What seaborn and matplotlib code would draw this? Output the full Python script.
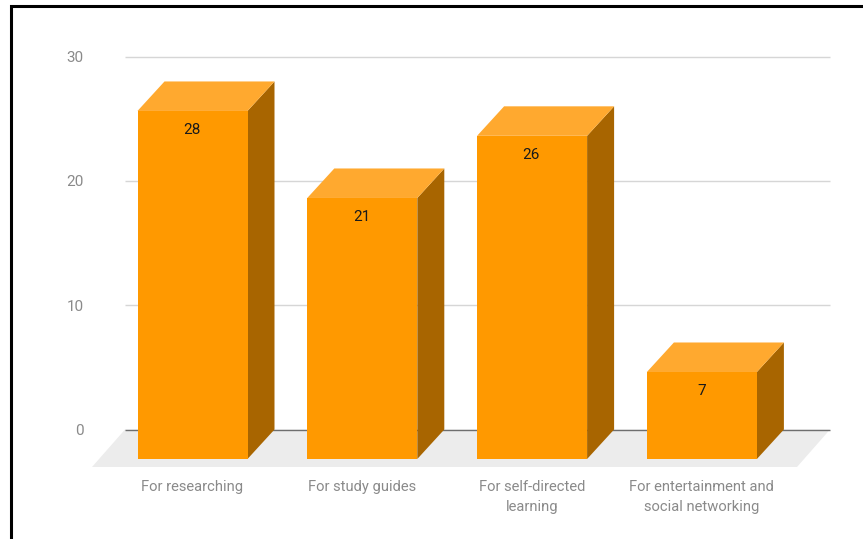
import matplotlib
matplotlib.use("Agg")
import matplotlib.pyplot as plt
import seaborn as sns
from matplotlib.lines import Line2D
from matplotlib.patches import Polygon

categories = ["For researching", "For study guides",
              "For self-directed\nlearning",
              "For entertainment and\nsocial networking"]
values = [28, 21, 26, 7]
y_ticks = [0, 10, 20, 30]

FRONT = "#ff9900"
TOP = "#ffa92f"
SIDE = "#a86500"
FLOOR = "#ececec"
GRID = "#d6d6d6"
BASE = "#6e6e6e"
TICK_TEXT = "#8a8a8a"

W, H = 863, 539
sns.set_theme(style="white")
plt.rcParams["font.family"] = ["Roboto", "DejaVu Sans"]

fig = plt.figure(figsize=(W / 100, H / 100), dpi=100, facecolor="white")

# Axes box in figure pixels; the baseline of the front faces is the bottom edge.
left, right, bottom, top = 92, 831, H - 459, H - 20
ax = fig.add_axes([left / W, bottom / H, (right - left) / W, (top - bottom) / H])

px_per_cat = 169.8
px_per_unit = 12.43
depth_x = 27 / px_per_cat
depth_y = 29.5 / px_per_unit
bar_width = 110 / px_per_cat

sns.barplot(x=categories, y=values, color=FRONT, saturation=1, width=bar_width,
            linewidth=0, ax=ax, zorder=4)

x0 = -(192.5 - left) / px_per_cat
ax.set_xlim(x0, x0 + (right - left) / px_per_cat)
ax.set_ylim(0, (top - bottom) / px_per_unit)

# Back wall gridlines and the floor slab
wall_l = x0 + 33 / px_per_cat
wall_r = x0 + 738 / px_per_cat
for v in y_ticks:
    ax.plot([wall_l, wall_r], [v + depth_y] * 2, color=BASE if v == 0 else GRID,
            lw=1.0, zorder=2.5 if v == 0 else 1, solid_capstyle="butt")
drop = -8 / px_per_unit
ax.add_patch(Polygon([(x0, drop), (wall_l, depth_y), (wall_r, depth_y),
                      (wall_r - 33 / px_per_cat, drop)],
                     closed=True, fc=FLOOR, ec="none", zorder=2, clip_on=False))

# Side and top faces, plus the value printed on each front face
for i, v in enumerate(values):
    xl, xr = i - bar_width / 2, i + bar_width / 2
    ax.add_patch(Polygon([(xr, 0), (xr + depth_x, depth_y), (xr + depth_x, v + depth_y), (xr, v)],
                         closed=True, fc=SIDE, ec="none", zorder=3))
    ax.add_patch(Polygon([(xl, v), (xl + depth_x, v + depth_y), (xr + depth_x, v + depth_y), (xr, v)],
                         closed=True, fc=TOP, ec="none", zorder=3))
    ax.text(i - 0.004, v - 19 / px_per_unit, str(v), ha="center", va="center",
            fontsize=11, color="#1a1a1a", zorder=5)

# Tick labels sit on the wall level for y and below the slab for x
ax.set_yticks([v + depth_y for v in y_ticks], [str(v) for v in y_ticks])
ax.set_xticks(range(len(categories)), categories)
ax.tick_params(axis="y", length=0, pad=6, labelsize=11, labelcolor=TICK_TEXT)
ax.tick_params(axis="x", length=0, pad=15, labelsize=10.6, labelcolor=TICK_TEXT)
for label in ax.get_xticklabels():
    label.set_linespacing(1.55)
ax.set_xlabel("")
ax.set_ylabel("")
for spine in ax.spines.values():
    spine.set_visible(False)
ax.patch.set_alpha(0)

# Black outline along the top and left of the figure
fig.add_artist(Line2D([10.5 / W, 10.5 / W, 1], [0, (H - 6) / H, (H - 6) / H],
                      color="#000000", lw=2.2, solid_joinstyle="miter"))

fig.savefig("out.png", dpi=100)
